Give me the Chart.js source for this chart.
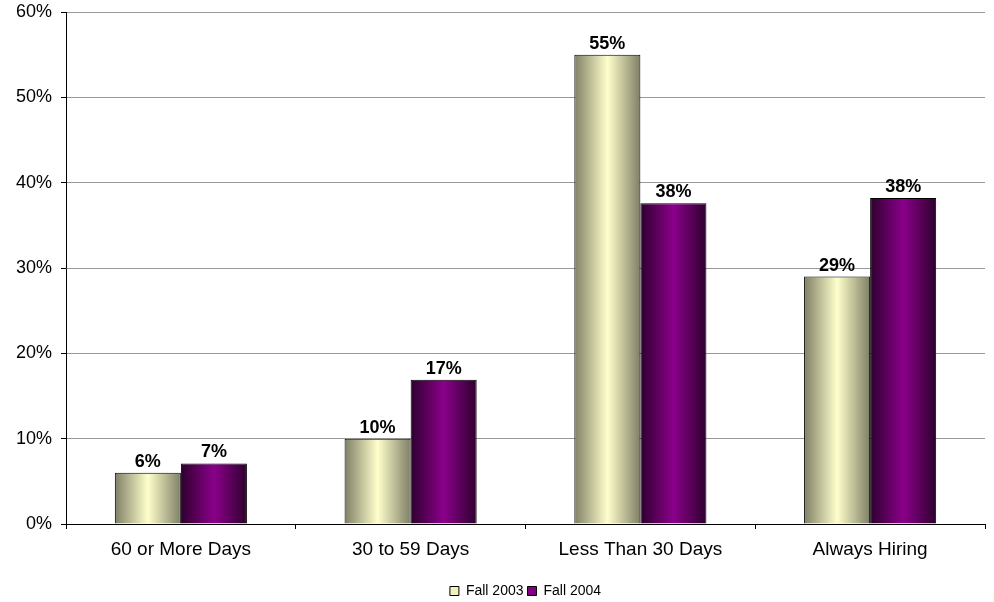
<!DOCTYPE html>
<html>
<head>
<meta charset="utf-8">
<script src="https://cdn.jsdelivr.net/npm/chart.js@4"></script>
<style>
  html, body { margin: 0; padding: 0; background: #fff; }
  #wrap { width: 994px; height: 602px; }
</style>
</head>
<body>
<div id="wrap"><canvas id="chart" width="994" height="602"></canvas></div>
<script>
const categories = ['60 or More Days', '30 to 59 Days', 'Less Than 30 Days', 'Always Hiring'];
const fall2003 = [6, 10, 55, 29];
const fall2004 = [7.1, 16.9, 37.6, 38.2];
const yTicks = [0, 10, 20, 30, 40, 50, 60];

// horizontal "cylinder" shading per series: edge, centre
const shades = [
    { edge: '#7f7f66', mid: '#ffffcc' },
    { edge: '#2e002e', mid: '#8a008a' }
];

const barShading = {
    id: 'barShading',
    beforeDatasetDraw(chart, args) {
        const ctx = chart.ctx;
        const s = shades[args.index];
        args.meta.data.forEach(el => {
            const left = el.x - el.width / 2;
            const right = el.x + el.width / 2;
            const g = ctx.createLinearGradient(left, 0, right, 0);
            g.addColorStop(0, s.edge);
            g.addColorStop(0.5, s.mid);
            g.addColorStop(1, s.edge);
            el.options = Object.assign({}, el.options, { backgroundColor: g });
        });
    }
};

const valueLabels = {
    id: 'valueLabels',
    afterDatasetsDraw(chart) {
        const ctx = chart.ctx;
        ctx.save();
        ctx.font = 'bold 18px "Liberation Sans", Arial, sans-serif';
        ctx.fillStyle = '#000';
        ctx.textAlign = 'center';
        ctx.textBaseline = 'alphabetic';
        chart.data.datasets.forEach((ds, i) => {
            chart.getDatasetMeta(i).data.forEach((el, j) => {
                ctx.fillText(Math.round(ds.data[j]) + '%', el.x, el.y - 6);
            });
        });
        ctx.restore();
    }
};

new Chart(document.getElementById('chart'), {
    type: 'bar',
    data: {
        labels: categories,
        datasets: [
            {
                label: 'Fall 2003',
                data: fall2003,
                backgroundColor: '#f2f2c0',
                borderColor: '#000',
                borderWidth: 1,
                borderSkipped: 'bottom'
            },
            {
                label: 'Fall 2004',
                data: fall2004,
                backgroundColor: '#800080',
                borderColor: '#000',
                borderWidth: 1,
                borderSkipped: 'bottom'
            }
        ]
    },
    options: {
        responsive: false,
        animation: false,
        devicePixelRatio: 1,
        layout: { padding: { top: 12, right: 9, left: 0, bottom: -6 } },
        datasets: {
            bar: { categoryPercentage: 0.575, barPercentage: 1 }
        },
        plugins: {
            legend: {
                position: 'bottom',
                fullSize: false,
                labels: {
                    boxWidth: 9,
                    boxHeight: 9,
                    padding: 4,
                    color: '#000',
                    font: { family: '"Liberation Sans", Arial, sans-serif', size: 14 }
                }
            },
            tooltip: { enabled: false }
        },
        scales: {
            x: {
                offset: true,
                grid: {
                    offset: true,
                    drawOnChartArea: false,
                    color: '#000',
                    tickLength: 5
                },
                border: { color: '#000' },
                ticks: {
                    color: '#000',
                    padding: 9,
                    font: { family: '"Liberation Sans", Arial, sans-serif', size: 19 }
                },
                afterFit(scale) {
                    scale.height = 56;
                    scale.paddingLeft = 0;
                    scale.paddingRight = 0;
                }
            },
            y: {
                min: 0,
                max: 60,
                afterBuildTicks(scale) { scale.ticks = yTicks.map(v => ({ value: v })); },
                grid: {
                    color: '#999',
                    tickColor: '#000',
                    tickLength: 5
                },
                border: { color: '#000' },
                ticks: {
                    color: '#000',
                    padding: 9,
                    font: { family: '"Liberation Sans", Arial, sans-serif', size: 18 },
                    callback: v => v + '%'
                },
                afterFit(scale) {
                    scale.width = 66;
                    scale.paddingTop = 0;
                    scale.paddingBottom = 0;
                }
            }
        }
    },
    plugins: [barShading, valueLabels]
});
</script>
</body>
</html>
